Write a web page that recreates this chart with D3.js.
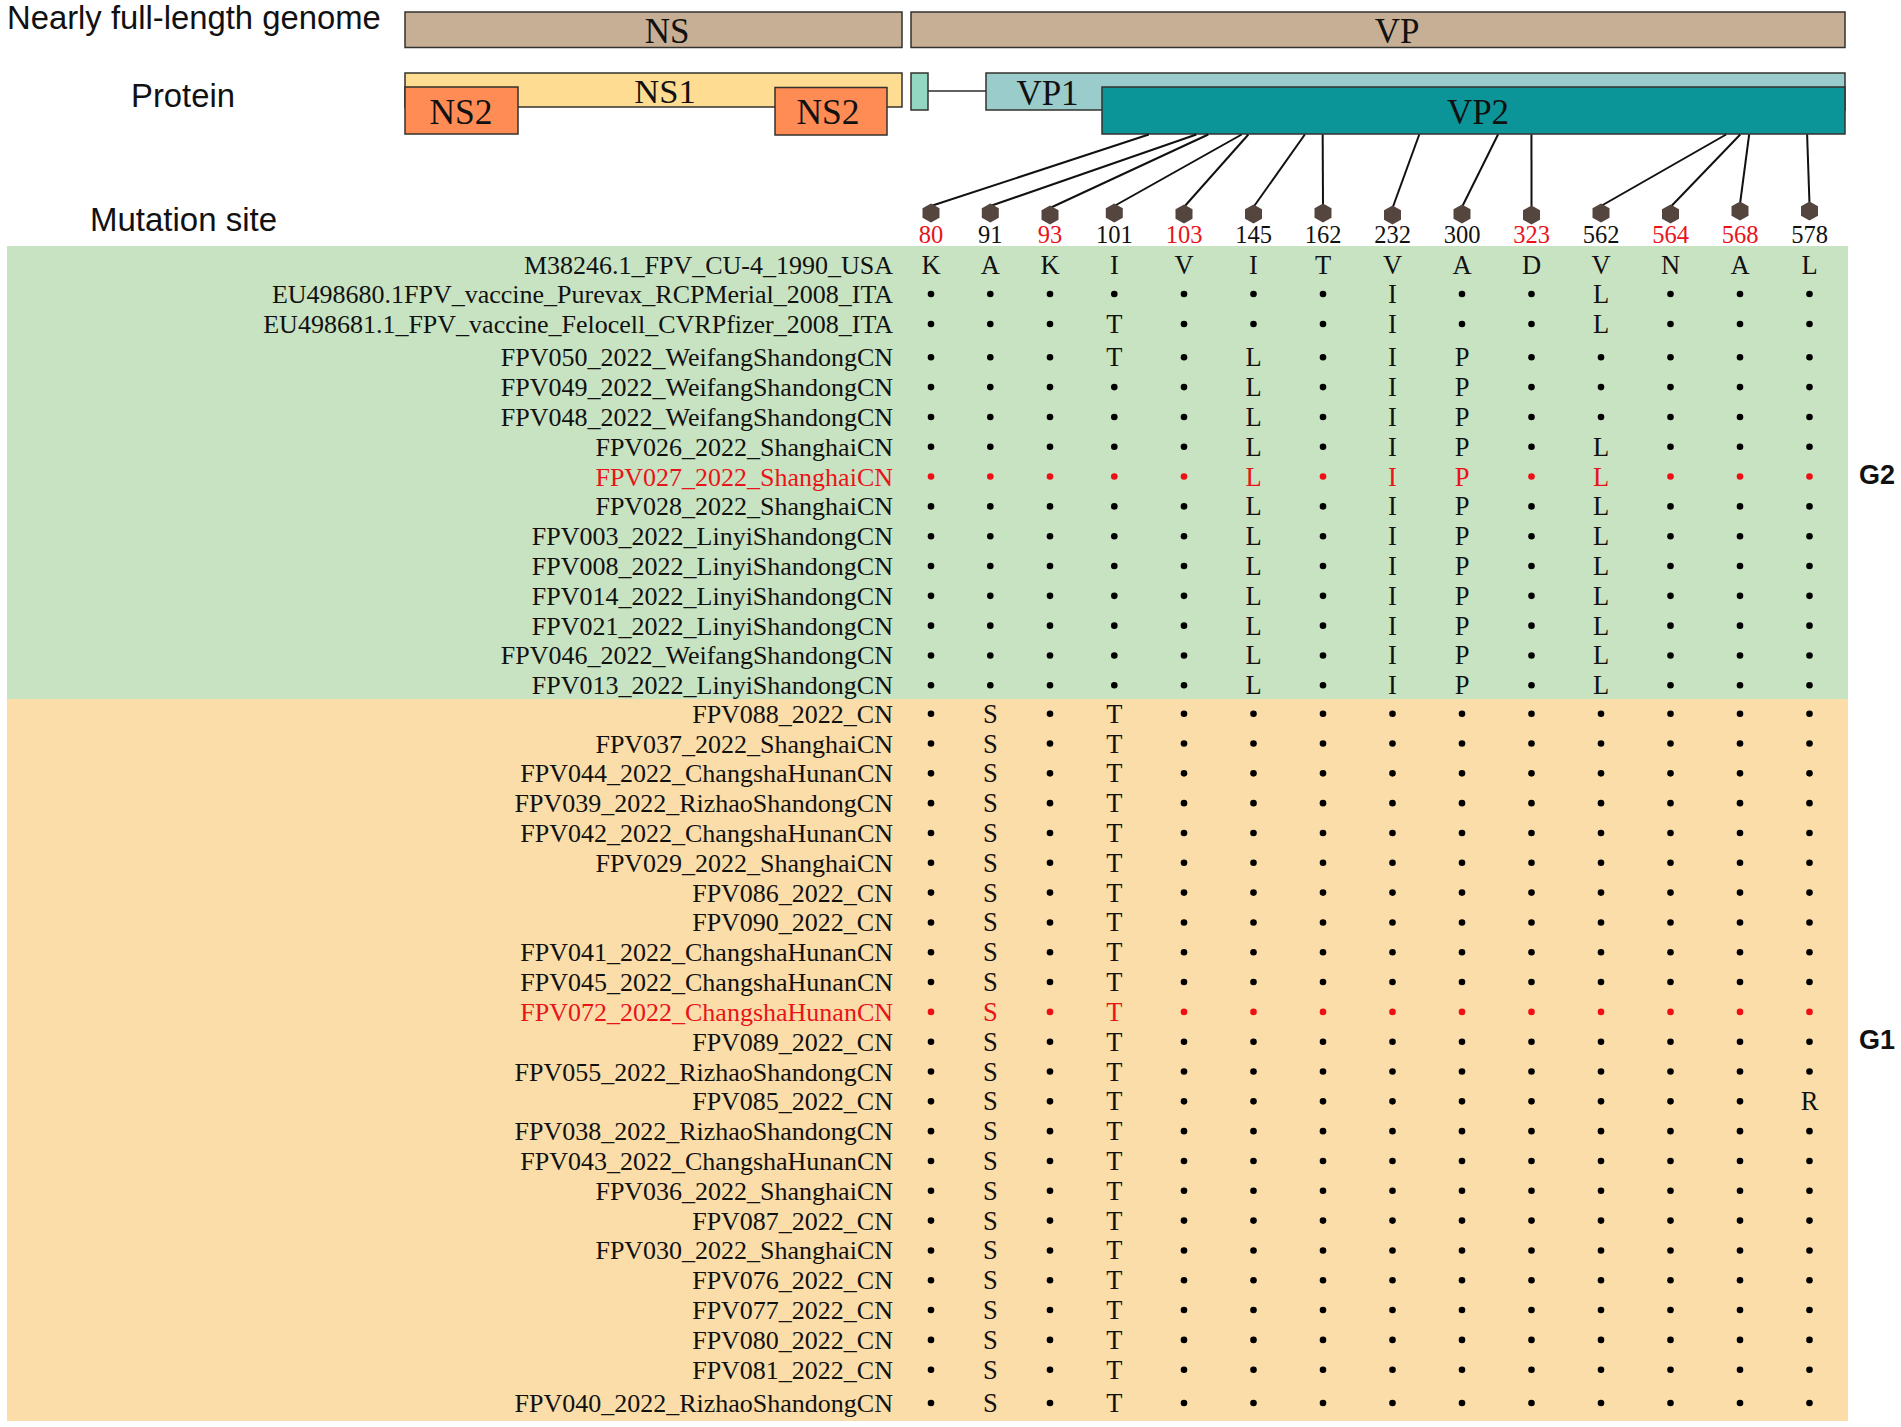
<!DOCTYPE html>
<html>
<head>
<meta charset="utf-8">
<script src="https://cdn.jsdelivr.net/npm/d3@7"></script>
<style>
html,body{margin:0;padding:0;background:#fff;}
svg{display:block;}
</style>
</head>
<body>
<div id="chart"></div>
<script>
// ---- data ----
const sites = [80, 91, 93, 101, 103, 145, 162, 232, 300, 323, 562, 564, 568, 578];
const highlightedSites = [80, 93, 103, 323, 564, 568];
const reference = ["K","A","K","I","V","I","T","V","A","D","V","N","A","L"];
const strains = [
  "M38246.1_FPV_CU-4_1990_USA",
  "EU498680.1FPV_vaccine_Purevax_RCPMerial_2008_ITA",
  "EU498681.1_FPV_vaccine_Felocell_CVRPfizer_2008_ITA",
  "FPV050_2022_WeifangShandongCN",
  "FPV049_2022_WeifangShandongCN",
  "FPV048_2022_WeifangShandongCN",
  "FPV026_2022_ShanghaiCN",
  "FPV027_2022_ShanghaiCN",
  "FPV028_2022_ShanghaiCN",
  "FPV003_2022_LinyiShandongCN",
  "FPV008_2022_LinyiShandongCN",
  "FPV014_2022_LinyiShandongCN",
  "FPV021_2022_LinyiShandongCN",
  "FPV046_2022_WeifangShandongCN",
  "FPV013_2022_LinyiShandongCN",
  "FPV088_2022_CN",
  "FPV037_2022_ShanghaiCN",
  "FPV044_2022_ChangshaHunanCN",
  "FPV039_2022_RizhaoShandongCN",
  "FPV042_2022_ChangshaHunanCN",
  "FPV029_2022_ShanghaiCN",
  "FPV086_2022_CN",
  "FPV090_2022_CN",
  "FPV041_2022_ChangshaHunanCN",
  "FPV045_2022_ChangshaHunanCN",
  "FPV072_2022_ChangshaHunanCN",
  "FPV089_2022_CN",
  "FPV055_2022_RizhaoShandongCN",
  "FPV085_2022_CN",
  "FPV038_2022_RizhaoShandongCN",
  "FPV043_2022_ChangshaHunanCN",
  "FPV036_2022_ShanghaiCN",
  "FPV087_2022_CN",
  "FPV030_2022_ShanghaiCN",
  "FPV076_2022_CN",
  "FPV077_2022_CN",
  "FPV080_2022_CN",
  "FPV081_2022_CN",
  "FPV040_2022_RizhaoShandongCN"
];
const residues = [
  "KAKIVITVADVNAL",
  ".......I..L...",
  "...T...I..L...",
  "...T.L.IP.....",
  ".....L.IP.....",
  ".....L.IP.....",
  ".....L.IP.L...",
  ".....L.IP.L...",
  ".....L.IP.L...",
  ".....L.IP.L...",
  ".....L.IP.L...",
  ".....L.IP.L...",
  ".....L.IP.L...",
  ".....L.IP.L...",
  ".....L.IP.L...",
  ".S.T..........",
  ".S.T..........",
  ".S.T..........",
  ".S.T..........",
  ".S.T..........",
  ".S.T..........",
  ".S.T..........",
  ".S.T..........",
  ".S.T..........",
  ".S.T..........",
  ".S.T..........",
  ".S.T..........",
  ".S.T..........",
  ".S.T.........R",
  ".S.T..........",
  ".S.T..........",
  ".S.T..........",
  ".S.T..........",
  ".S.T..........",
  ".S.T..........",
  ".S.T..........",
  ".S.T..........",
  ".S.T..........",
  ".S.T.........."
];
const highlightedStrains = ["FPV027_2022_ShanghaiCN", "FPV072_2022_ChangshaHunanCN"];
const groups = [
  {name: "G2", first: 0, last: 14},
  {name: "G1", first: 15, last: 38}
];
// genome schematic, in nominal genome units along the schematic
const genomeBands = [
  {name: "NS", start: 0, end: 497},
  {name: "VP", start: 506, end: 1440}
];
const vpAnchors = [0.063,0.127,0.143,0.188,0.197,0.273,0.297,0.427,0.533,0.578,0.840,0.859,0.871,0.949];
const markerOffsets = [0,0,2,0,1,1,0,2,1,2,0,1,-2,-2];

// ---- layout ----
const W = 1901, H = 1427;
const serif = "'Liberation Serif','Times New Roman',serif";
const sans = "'Liberation Sans',Arial,sans-serif";
const svg = d3.select("#chart").append("svg").attr("width", W).attr("height", H).attr("viewBox", `0 0 ${W} ${H}`);

const colIndex = d3.scaleLinear().domain([0,1,2,3,4,13]).range([931,990.3,1050,1114.3,1184,1809.5]);
const x = s => colIndex(sites.indexOf(s));
const y = d3.scaleLinear().domain([0,1,2,3,14,15,37,38]).range([264.5,294,324,357.3,685.3,713.7,1369.7,1403]);
const g = d3.scaleLinear().domain([0,1440]).range([405,1845]);
const vp2 = d3.scaleLinear().domain([0,1]).range([1102,1845]);

// group backgrounds
const groupBg = {G2: "#C8E3C1", G1: "#FADDA8"};
const groupBounds = {G2: [246, 699], G1: [699, 1421]};
svg.append("g").selectAll("rect").data(groups).join("rect")
  .attr("x", 7).attr("width", 1841)
  .attr("y", d => groupBounds[d.name][0])
  .attr("height", d => groupBounds[d.name][1] - groupBounds[d.name][0])
  .attr("fill", d => groupBg[d.name]);

// helper for schematic boxes
function box(x0, x1, y0, y1, fill) {
  svg.append("rect").attr("x", x0).attr("y", y0).attr("width", x1 - x0).attr("height", y1 - y0)
    .attr("fill", fill).attr("stroke", "#33322c").attr("stroke-width", 1.5);
}
function label(txt, cx, by, size, family, fill, anchor, weight) {
  return svg.append("text").attr("x", cx).attr("y", by).text(txt)
    .attr("font-family", family).attr("font-size", size).attr("fill", fill || "#111")
    .attr("text-anchor", anchor || "middle").attr("font-weight", weight || "normal");
}

// genome bands
genomeBands.forEach(b => box(g(b.start), g(b.end), 12, 47.5, "#C7AF96"));
label("NS", 667, 43, 35, serif);
label("VP", 1397, 42.5, 35, serif);

// protein row
box(g(0), g(497), 73, 107, "#FEDD92");
box(g(0), g(113), 87, 134, "#FF8C55");
box(g(370), g(482), 87.5, 135, "#FF8C55");
box(g(506), g(523), 73, 110, "#93D6C2");
svg.append("line").attr("x1", g(523)).attr("x2", g(581)).attr("y1", 91).attr("y2", 91)
  .attr("stroke", "#2b2b2b").attr("stroke-width", 1.5);
box(g(581), g(1440), 73, 110, "#9BCCCC");
box(g(697), g(1440), 87, 134, "#0C9599");
label("NS1", 665, 103, 34.5, serif);
label("NS2", 461, 124, 35.5, serif);
label("NS2", 828, 124, 35.5, serif);
label("VP1", 1047.5, 105, 35, serif);
label("VP2", 1478, 123.7, 35, serif);

// left labels
label("Nearly full-length genome", 7, 29, 32.8, sans, "#111", "start");
label("Protein", 131, 107, 32.8, sans, "#111", "start");
label("Mutation site", 90, 231, 33, sans, "#111", "start");

// leader lines
svg.append("g").selectAll("line").data(sites).join("line")
  .attr("x1", (d,i) => vp2(vpAnchors[i])).attr("y1", 134.5)
  .attr("x2", d => x(d)).attr("y2", (d,i) => 213 + markerOffsets[i] - 7)
  .attr("stroke", "#111").attr("stroke-width", 2);

// hexagon markers
const hexLine = d3.line().curve(d3.curveLinearClosed);
const hex = (w, h) => hexLine([[0,-h/2],[w/2,-h/4],[w/2,h/4],[0,h/2],[-w/2,h/4],[-w/2,-h/4]]);
svg.append("g").selectAll("path").data(sites).join("path")
  .attr("transform", (d,i) => `translate(${x(d)},${213 + markerOffsets[i]})`)
  .attr("d", hex(17, 19)).attr("fill", "#54463F");

// site numbers
svg.append("g").selectAll("text").data(sites).join("text")
  .attr("x", d => x(d)).attr("y", 243)
  .attr("text-anchor", "middle").attr("font-family", serif).attr("font-size", 24.5)
  .attr("fill", d => highlightedSites.includes(d) ? "#E8141A" : "#111").text(d => d);

// strain labels
const colorOf = n => highlightedStrains.includes(n) ? "#E8141A" : "#111";
svg.append("g").selectAll("text").data(strains).join("text")
  .attr("x", 893).attr("y", (d,i) => y(i) + 9)
  .attr("text-anchor", "end").attr("font-family", serif).attr("font-size", 26)
  .attr("fill", colorOf).text(d => d);

// matrix
const cells = [];
strains.forEach((n, r) => sites.forEach((s, c) => cells.push({r, s, v: residues[r][c], n})));
const dots = cells.filter(d => d.v === ".");
const letters = cells.filter(d => d.v !== ".");
svg.append("g").selectAll("circle").data(dots).join("circle")
  .attr("cx", d => x(d.s)).attr("cy", d => y(d.r)).attr("r", 3.3)
  .attr("fill", d => highlightedStrains.includes(d.n) ? "#EE0F14" : "#000");
svg.append("g").selectAll("text").data(letters).join("text")
  .attr("x", d => x(d.s)).attr("y", d => y(d.r) + 9)
  .attr("text-anchor", "middle").attr("font-family", serif).attr("font-size", 26.5)
  .attr("fill", d => colorOf(d.n)).text(d => d.v);

// group labels
const groupLabelY = {G2: 484, G1: 1049};
svg.append("g").selectAll("text").data(groups).join("text")
  .attr("x", 1859).attr("y", d => groupLabelY[d.name])
  .attr("font-family", sans).attr("font-weight", "bold").attr("font-size", 27)
  .attr("fill", "#111").text(d => d.name);
</script>
</body>
</html>
